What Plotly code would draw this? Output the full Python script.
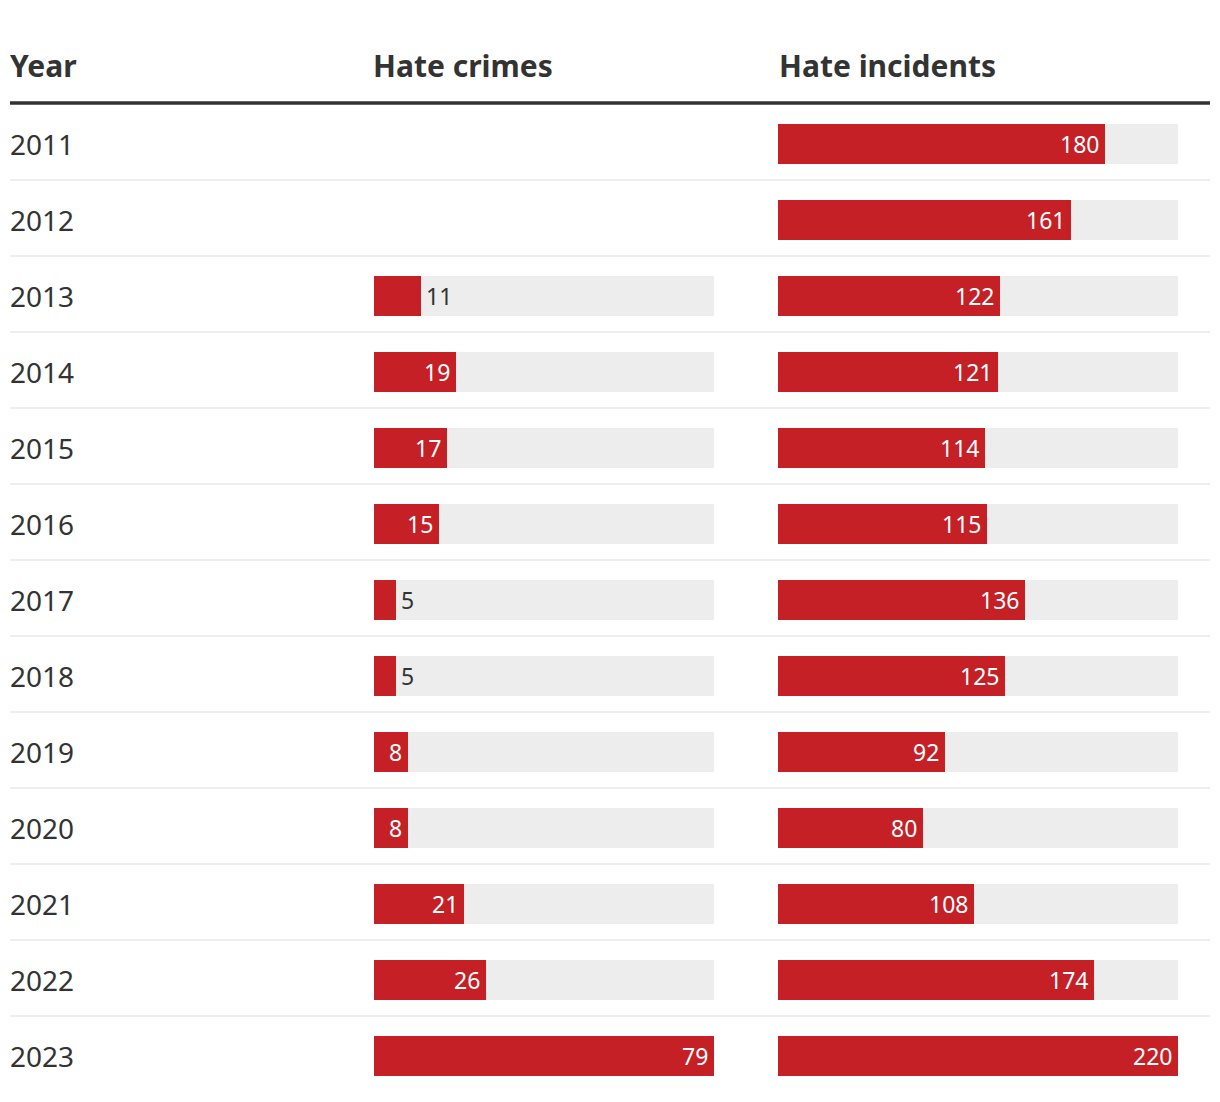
import plotly.graph_objects as go

years = ["2011", "2012", "2013", "2014", "2015", "2016", "2017", "2018",
         "2019", "2020", "2021", "2022", "2023"]
hate_crimes = [None, None, 11, 19, 17, 15, 5, 5, 8, 8, 21, 26, 79]
hate_incidents = [180, 161, 122, 121, 114, 115, 136, 125, 92, 80, 108, 174, 220]
headers = ["Year", "Hate crimes", "Hate incidents"]

OFF = 8                      # page body margin
W, H = 1220 - 2 * OFF, 1102 - OFF
ROW0, ROWH = 144, 76
RED = "#c42026"
GRAY = "#ededed"
DARK = "#333333"
FONT = "Noto Sans"


def px(x_ref):
    return (x_ref - OFF) / W


def py(y_ref):
    return (y_ref - ROW0) / ROWH


idx = list(range(len(years)))
max_c = max(v for v in hate_crimes if v is not None)
max_i = max(hate_incidents)

fig = go.Figure()
bw = 40 / ROWH

# background bars
fig.add_trace(go.Bar(
    x=[max_c if v is not None else None for v in hate_crimes], y=idx,
    orientation="h", width=bw, marker=dict(color=GRAY, line=dict(width=0)),
    xaxis="x", yaxis="y", hoverinfo="skip", showlegend=False))
fig.add_trace(go.Bar(
    x=[max_i for v in hate_incidents], y=idx,
    orientation="h", width=bw, marker=dict(color=GRAY, line=dict(width=0)),
    xaxis="x2", yaxis="y", hoverinfo="skip", showlegend=False))
# value bars
fig.add_trace(go.Bar(
    x=hate_crimes, y=idx, orientation="h", width=bw,
    marker=dict(color=RED, line=dict(width=0)),
    xaxis="x", yaxis="y", showlegend=False))
fig.add_trace(go.Bar(
    x=hate_incidents, y=idx, orientation="h", width=bw,
    marker=dict(color=RED, line=dict(width=0)),
    xaxis="x2", yaxis="y", showlegend=False))

annotations = []


def add_labels(vals, xref, vmax, px_width):
    for i, v in enumerate(vals):
        if v is None:
            continue
        bar_px = v / vmax * px_width
        txt = str(v)
        need = len(txt) * 16 + 18
        if bar_px >= need:
            annotations.append(dict(x=v, y=i, xref=xref, yref="y", text=txt,
                                    showarrow=False, xanchor="right", xshift=-4,
                                    font=dict(family=FONT, size=23, color="white")))
        else:
            annotations.append(dict(x=v, y=i, xref=xref, yref="y", text=txt,
                                    showarrow=False, xanchor="left", xshift=3,
                                    font=dict(family=FONT, size=23, color=DARK)))


add_labels(hate_crimes, "x", max_c, 340)
add_labels(hate_incidents, "x2", max_i, 400)

# year labels
for i, yr in enumerate(years):
    annotations.append(dict(x=px(8), y=i, xref="paper", yref="y", text=yr,
                            showarrow=False, xanchor="left",
                            font=dict(family=FONT, size=28, color=DARK)))

# headers
for hx, h in zip([8, 371, 777], headers):
    annotations.append(dict(x=px(hx), y=py(65), xref="paper", yref="y",
                            text="<b>" + h + "</b>", showarrow=False, xanchor="left",
                            font=dict(family=FONT, size=30, color=DARK)))

shapes = [dict(type="line", xref="paper", yref="y", x0=px(10), x1=px(1210),
               y0=py(103), y1=py(103), line=dict(color=DARK, width=3.5), layer="below")]
for k in range(len(years) - 1):
    yy = k + py(180)
    shapes.append(dict(type="line", xref="paper", yref="y", x0=px(10), x1=px(1210),
                       y0=yy, y1=yy, line=dict(color="#eeeeee", width=2), layer="below"))

fig.update_layout(
    width=W, height=H, margin=dict(l=0, r=0, t=0, b=0),
    paper_bgcolor="white", plot_bgcolor="white",
    barmode="overlay", bargap=0,
    xaxis=dict(domain=[px(374), px(714)], range=[0, max_c], visible=False, fixedrange=True),
    xaxis2=dict(domain=[px(778), px(1178)], range=[0, max_i], visible=False, fixedrange=True),
    yaxis=dict(domain=[0, 1], range=[py(OFF + H), py(OFF)], visible=False, fixedrange=True),
    annotations=annotations, shapes=shapes,
    font=dict(family=FONT, color=DARK),
)

fig.write_html("out.html")
